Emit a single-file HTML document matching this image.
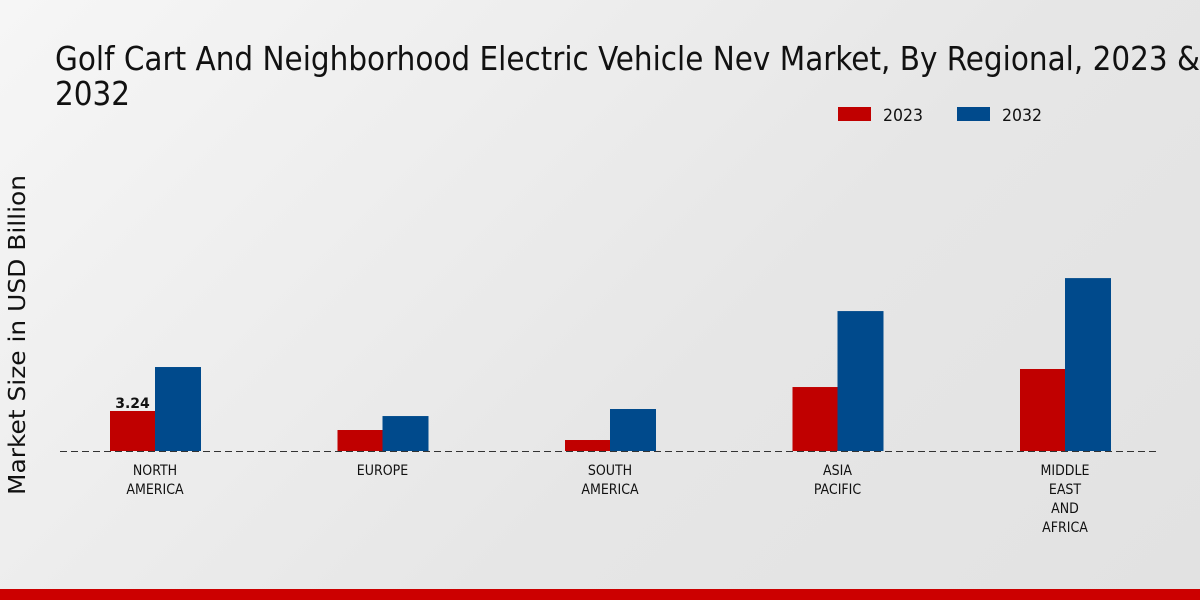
<!DOCTYPE html>
<html><head><meta charset="utf-8">
<style>
html,body{margin:0;padding:0;width:1200px;height:600px;overflow:hidden;}
body{background:linear-gradient(135deg,#f6f6f6 0%,#e6e6e6 60%,#e2e2e2 100%);font-family:"DejaVu Sans","Liberation Sans",sans-serif;}
svg{position:absolute;left:0;top:0;}
</style></head>
<body>
<svg id="chart" width="1200" height="600">
  <text x="55" y="70" font-size="33" font-stretch="condensed" textLength="1145" lengthAdjust="spacingAndGlyphs" fill="#111">Golf Cart And Neighborhood Electric Vehicle Nev Market, By Regional, 2023 &amp;</text>
  <text x="55" y="105" font-size="33" textLength="75" lengthAdjust="spacingAndGlyphs" fill="#111">2032</text>
  <g>
    <rect x="838" y="107" width="33" height="14" fill="#c00000"/>
    <text x="883" y="121" font-size="17" textLength="40" lengthAdjust="spacingAndGlyphs" fill="#111">2023</text>
    <rect x="957" y="107" width="33" height="14" fill="#004a8c"/>
    <text x="1002" y="121" font-size="17" textLength="40" lengthAdjust="spacingAndGlyphs" fill="#111">2032</text>
  </g>
  <text transform="translate(25,335) rotate(-90)" text-anchor="middle" font-size="23" textLength="320" lengthAdjust="spacingAndGlyphs" fill="#111">Market Size in USD Billion</text>
  <line x1="60" y1="451.5" x2="1160" y2="451.5" stroke="#333" stroke-width="1" stroke-dasharray="7,4"/>
  <g id="bars"></g>
  <rect x="0" y="589" width="1200" height="11" fill="#cc0000"/>
</svg>
<script>
const categories = [["NORTH","AMERICA"],["EUROPE"],["SOUTH","AMERICA"],["ASIA","PACIFIC"],["MIDDLE","EAST","AND","AFRICA"]];
const values2023 = [3.24, 1.7, 0.89, 5.18, 6.64];
const values2032 = [6.8, 2.83, 3.4, 11.33, 14.0];
const labelValues = ["3.24", null, null, null, null];

const baseY = 451, pxPerUnit = 12.35;
const x0 = 155, step = 227.5, barW = 45;
const yScale = v => baseY - v * pxPerUnit;
const xCenter = i => x0 + i * step;
const NS = "http://www.w3.org/2000/svg";
const g = document.getElementById('bars');

function mk(tag, attrs){ const e=document.createElementNS(NS,tag); for(const k in attrs) e.setAttribute(k,attrs[k]); return e; }

categories.forEach((cat,i)=>{
  const cx = xCenter(i);
  const r1 = mk('rect',{x:cx-barW, y:yScale(values2023[i]), width:barW, height:baseY-yScale(values2023[i]), fill:'#c00000'});
  
  
  g.appendChild(r1);
  const r2 = mk('rect',{x:cx, y:yScale(values2032[i]), width:barW+1, height:baseY-yScale(values2032[i]), fill:'#004a8c'});
  
  
  g.appendChild(r2);
  if(labelValues[i]){
    const t = mk('text',{x:cx-barW/2, y:yScale(values2023[i])-3, 'text-anchor':'middle','font-size':14,'font-weight':'bold',fill:'#111'});
    t.textContent = labelValues[i];
    
    
    g.appendChild(t);
  }
  cat.forEach((line,j)=>{
    const t = mk('text',{x:cx, y:475+j*19, 'text-anchor':'middle','font-size':14,'font-stretch':'condensed',fill:'#111'});
    t.textContent = line;
    
    
    g.appendChild(t);
  });
});
</script>
</body></html>
